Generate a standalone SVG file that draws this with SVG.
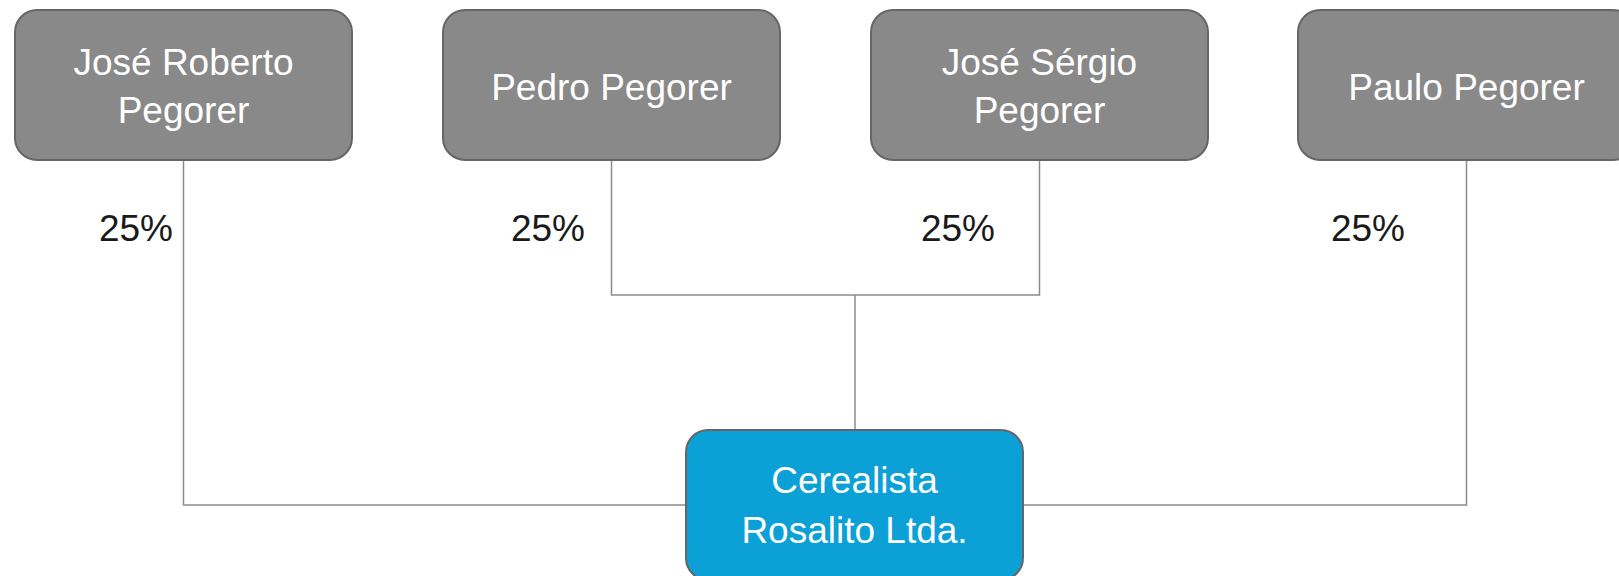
<svg xmlns="http://www.w3.org/2000/svg" width="1619" height="576" viewBox="0 0 1619 576">
<style>
.box{fill:#898989;stroke:#666666;stroke-width:2}
.main{fill:#0ba0d6;stroke:#666666;stroke-width:2}
.t{font-family:"Liberation Sans",Arial,sans-serif;font-size:37px;fill:#ffffff;text-anchor:middle}
.lbl{font-family:"Liberation Sans",Arial,sans-serif;font-size:37px;fill:#1a1a1a;text-anchor:end}
.c{fill:none;stroke:#8c8c8c;stroke-width:1.5}
</style>
<rect width="1619" height="576" fill="#ffffff"/>
<g id="connectors">
<polyline class="c" points="183.5,161 183.5,505 686,505"/>
<polyline class="c" points="1466.5,161 1466.5,505 1023,505"/>
<polyline class="c" points="611.5,161 611.5,295 1039.5,295 1039.5,161"/>
<line class="c" x1="855" y1="295" x2="855" y2="430"/>
<text class="lbl" x="173" y="241">25%</text>
<text class="lbl" x="585" y="241">25%</text>
<text class="lbl" x="995" y="241">25%</text>
<text class="lbl" x="1405" y="241">25%</text>
</g>
<g id="n1">
<rect class="box" x="15" y="10" width="337" height="150" rx="22"/>
<text class="t" x="183.5" y="75">José Roberto</text>
<text class="t" x="183.5" y="123">Pegorer</text>
</g>
<g id="n2">
<rect class="box" x="443" y="10" width="337" height="150" rx="22"/>
<text class="t" x="611.5" y="100">Pedro Pegorer</text>
</g>
<g id="n3">
<rect class="box" x="871" y="10" width="337" height="150" rx="22"/>
<text class="t" x="1039.5" y="75">José Sérgio</text>
<text class="t" x="1039.5" y="123">Pegorer</text>
</g>
<g id="n4">
<rect class="box" x="1298" y="10" width="337" height="150" rx="22"/>
<text class="t" x="1466.5" y="100">Paulo Pegorer</text>
</g>
<g id="n5">
<rect class="main" x="686" y="430" width="337" height="150" rx="22"/>
<text class="t" x="854.5" y="493">Cerealista</text>
<text class="t" x="854.5" y="543">Rosalito Ltda.</text>
</g>
</svg>
